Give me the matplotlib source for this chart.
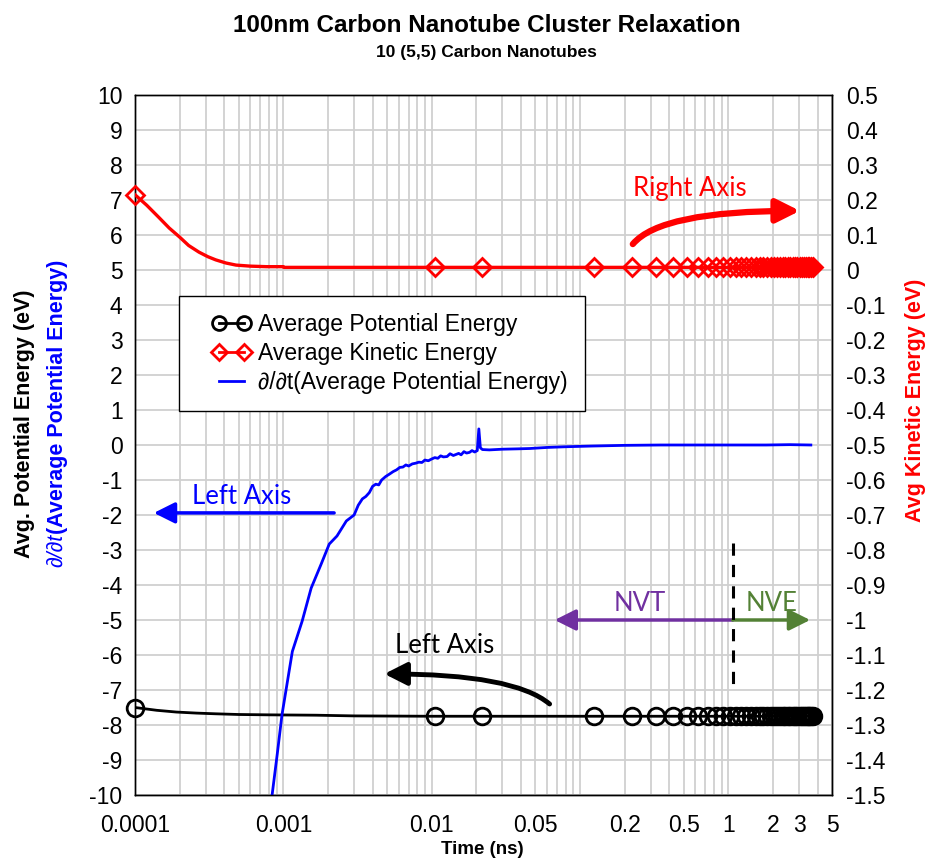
import numpy as np
import matplotlib
matplotlib.use("Agg")
import matplotlib.pyplot as plt
from matplotlib.ticker import LogLocator, FixedLocator, FuncFormatter, NullFormatter, MultipleLocator
from matplotlib.lines import Line2D
from matplotlib.legend_handler import HandlerLine2D

plt.rcParams['font.family'] = ['Liberation Sans', 'DejaVu Sans']
plt.rcParams['axes.unicode_minus'] = False

# average potential energy, left axis (eV)
pe_time = [1e-4, 1.4e-4, 1.9e-4, 2.6e-4, 3.5e-4, 5e-4, 8e-4, 1.66e-3, 3e-3, 1e-2, 0.1, 1.0, 3.73]
pe_vals = [-7.5, -7.58, -7.63, -7.66, -7.68, -7.70, -7.71, -7.72, -7.74, -7.75, -7.75, -7.75, -7.75]

# average kinetic energy, right axis (eV)
ke_time = [1e-4, 1.2e-4, 1.45e-4, 1.7e-4, 2e-4, 2.3e-4, 2.7e-4, 3.1e-4, 3.5e-4, 4.1e-4,
           4.8e-4, 6e-4, 7.7e-4, 1e-3, 1.01e-3, 3.73]
ke_vals = [0.215, 0.185, 0.15, 0.12, 0.094, 0.07, 0.051, 0.038, 0.029, 0.02,
           0.014, 0.011, 0.0095, 0.0095, 0.0075, 0.0075]

# saved frames (markers)
mark_time = [1e-4, 0.0105, 0.0217, 0.125, 0.225, 0.325, 0.425, 0.525, 0.625, 0.725, 0.825,
             0.925, 1.025, 1.125, 1.225, 1.325, 1.425, 1.525, 1.625, 1.725, 1.825, 1.925,
             2.025, 2.125, 2.225, 2.325, 2.425, 2.525, 2.625, 2.725, 2.825, 2.925, 3.025,
             3.125, 3.225, 3.325, 3.425, 3.525, 3.625, 3.725]
pe_mark = [-7.5] + [-7.75] * (len(mark_time) - 1)
ke_mark = [0.215] + [0.008] * (len(mark_time) - 1)

# d/dt of average potential energy, left axis
dpe_time = [8.4e-4, 9.1e-4, 9.8e-4, 1.15e-3, 1.34e-3, 1.54e-3, 1.8e-3, 2.04e-3, 2.3e-3, 2.66e-3,
            3.0e-3, 3.2e-3, 3.41e-3, 3.6e-3, 3.8e-3, 4.0e-3, 4.2e-3, 4.4e-3, 4.6e-3, 4.9e-3,
            5.2e-3, 5.5e-3, 5.8e-3, 6.1e-3, 6.4e-3, 6.7e-3, 7.0e-3, 7.4e-3, 7.8e-3, 8.2e-3,
            8.6e-3, 9.0e-3, 9.5e-3, 1.0e-2, 1.05e-2, 1.1e-2, 1.15e-2, 1.2e-2, 1.27e-2, 1.33e-2,
            1.4e-2, 1.46e-2, 1.52e-2, 1.58e-2, 1.65e-2, 1.72e-2, 1.8e-2, 1.87e-2, 1.95e-2, 2.03e-2,
            2.08e-2, 2.13e-2, 2.2e-2, 2.45e-2, 3.0e-2, 3.8e-2, 4.6e-2, 6e-2, 8e-2, 0.12,
            0.2, 0.35, 0.6, 1.0, 1.8, 2.6, 3.6]
dpe_vals = [-10, -8.83, -7.7, -5.9, -5.03, -4.09, -3.4, -2.83, -2.6, -2.17,
            -2.0, -1.72, -1.54, -1.47, -1.36, -1.18, -1.12, -1.14, -1.0, -0.9,
            -0.83, -0.76, -0.71, -0.64, -0.63, -0.57, -0.60, -0.54, -0.52, -0.49,
            -0.50, -0.43, -0.45, -0.40, -0.36, -0.38, -0.31, -0.34, -0.33, -0.25,
            -0.30, -0.27, -0.24, -0.28, -0.19, -0.23, -0.21, -0.16, -0.20, -0.16,
            0.46, -0.08, -0.13, -0.14, -0.12, -0.11, -0.1, -0.07, -0.05, -0.03,
            -0.01, 0.0, 0.0, 0.0, 0.0, 0.01, 0.0]

xtick_vals = [0.0001, 0.001, 0.01, 0.05, 0.2, 0.5, 1, 2, 3, 5]
xtick_labels = ['0.0001', '0.001', '0.01', '0.05', '0.2', '0.5', '1', '2', '3', '5']


class InsetHandler(HandlerLine2D):
    # pushes the legend sample to the right part of its box
    def create_artists(self, legend, orig_handle, xdescent, ydescent, width, height, fontsize, trans):
        s = 0.7 * fontsize
        return super().create_artists(legend, orig_handle, xdescent - s, ydescent, width - s,
                                      height, fontsize, trans)


fig = plt.figure(figsize=(9.31, 8.59), dpi=100)
ax = fig.add_axes([135 / 931, 1 - 795 / 859, 697 / 931, 700 / 859])
ax2 = ax.twinx()

grid_c = '#d0d0d0'
tick_fs = 16.5
ax.set_xscale('log')
ax.set_xlim(1e-4, 5)
ax.set_ylim(-10, 10)
ax.yaxis.set_major_locator(MultipleLocator(1))
ax.xaxis.set_major_locator(FixedLocator(xtick_vals))
ax.set_xticklabels(xtick_labels)
ax.xaxis.set_minor_locator(LogLocator(base=10, subs=np.arange(1, 10), numticks=20))
ax.xaxis.set_minor_formatter(NullFormatter())
ax.grid(True, which='both', axis='x', color=grid_c, lw=1.3)
ax.grid(True, which='major', axis='y', color=grid_c, lw=1.3)
ax.set_axisbelow(True)
ax.tick_params(which='both', length=0, labelsize=tick_fs)
ax.tick_params(axis='x', pad=14)
ax.tick_params(axis='y', pad=9)

ax2.set_ylim(-1.5, 0.5)
ax2.set_yticks(np.round(np.arange(-1.5, 0.51, 0.1), 1))
ax2.yaxis.set_major_formatter(FuncFormatter(lambda v, p: f"{round(v, 1):g}" if abs(v) > 1e-9 else '0'))
ax2.tick_params(length=0, labelsize=tick_fs, pad=10)

for a in (ax, ax2):
    for s in a.spines.values():
        s.set_color('black')
        s.set_linewidth(1.0)

# series
ax.plot(pe_time, pe_vals, color='black', lw=2.0, zorder=3)
ax.plot(mark_time, pe_mark, ls='none', marker='o', ms=12, mfc='none', mec='black', mew=2.0,
        zorder=3, clip_on=False)
ax.plot(dpe_time, dpe_vals, color='#0000ff', lw=2.0, zorder=3)
ax2.plot(ke_time, ke_vals, color='#ff0000', lw=2.4, zorder=3)
ax2.plot(mark_time, ke_mark, ls='none', marker='D', ms=9, mfc='none', mec='#ff0000', mew=2.0,
         zorder=3, clip_on=False)

# legend
handles = [
    Line2D([], [], color='black', lw=2, marker='o', ms=10, mfc='none', mew=2),
    Line2D([], [], color='#ff0000', lw=2, marker='D', ms=8, mfc='none', mew=2),
    Line2D([], [], color='#0000ff', lw=2),
]
labels = ['Average Potential Energy', 'Average Kinetic Energy', '\u2202/\u2202t(Average Potential Energy)']
leg = ax2.legend(handles, labels, loc='upper left', bbox_to_anchor=(0.063, 0.713), numpoints=2,
                 fontsize=16.5, frameon=True, fancybox=False, edgecolor='black', framealpha=1,
                 handlelength=2.4, handletextpad=0.3, borderpad=0.75, labelspacing=0.25,
                 borderaxespad=0, handler_map={Line2D: InsetHandler()})
leg.get_frame().set_linewidth(1.0)
leg.set_zorder(10)

# annotations
ann_font = ['Lato', 'DejaVu Sans']
ann_fs = 18.5
ax.text(0.55, 7.34, 'Right Axis', color='#ff0000', fontsize=ann_fs, ha='center', va='center',
        family=ann_font)
ax.annotate('', xy=(3.04, 6.69), xytext=(0.227, 5.74),
            arrowprops=dict(arrowstyle='-|>,head_length=0.7,head_width=0.35', color='#ff0000',
                            lw=4.5, mutation_scale=20, shrinkA=0, shrinkB=0,
                            connectionstyle='angle3,angleA=50,angleB=0'))

ax.text(5.27e-4, -1.46, 'Left Axis', color='#0000ff', fontsize=ann_fs, ha='center', va='center',
        family=ann_font)
ax.annotate('', xy=(1.34e-4, -1.94), xytext=(2.2e-3, -1.94),
            arrowprops=dict(arrowstyle='-|>,head_length=0.8,head_width=0.4', color='#0000ff',
                            lw=2.5, mutation_scale=16, shrinkA=0, shrinkB=0))

ax.text(0.0122, -5.74, 'Left Axis', color='black', fontsize=ann_fs, ha='center', va='center',
        family=ann_font)
ax.annotate('', xy=(4.8e-3, -6.54), xytext=(0.0624, -7.4),
            arrowprops=dict(arrowstyle='-|>,head_length=0.75,head_width=0.38', color='black',
                            lw=3.5, mutation_scale=18, shrinkA=0, shrinkB=0,
                            connectionstyle='angle3,angleA=140,angleB=0'))

ax.text(0.253, -4.54, 'NVT', color='#7030a0', fontsize=ann_fs, ha='center', va='center',
        family=ann_font)
ax.annotate('', xy=(0.0675, -5.0), xytext=(1.07, -5.0),
            arrowprops=dict(arrowstyle='-|>,head_length=0.8,head_width=0.4', color='#7030a0',
                            lw=2.5, mutation_scale=16, shrinkA=0, shrinkB=0))
ax.text(1.97, -4.54, 'NVE', color='#538135', fontsize=ann_fs, ha='center', va='center',
        family=ann_font)
ax.annotate('', xy=(3.56, -5.0), xytext=(1.07, -5.0),
            arrowprops=dict(arrowstyle='-|>,head_length=0.8,head_width=0.4', color='#538135',
                            lw=2.5, mutation_scale=16, shrinkA=0, shrinkB=0))
ax.plot([1.07, 1.07], [-2.8, -7.0], color='black', lw=2.2, ls=(0, (4, 3)), zorder=4)

# titles and axis labels
title_x = 0.5 * (233 + 740) / 931
fig.text(title_x, 1 - 25 / 859, '100nm Carbon Nanotube Cluster Relaxation',
         ha='center', va='center', fontsize=17.5, fontweight='bold')
fig.text(title_x, 1 - 52 / 859, '10 (5,5) Carbon Nanotubes',
         ha='center', va='center', fontsize=12.5, fontweight='bold')
fig.text(482 / 931, 1 - 850 / 859, 'Time (ns)', ha='center', va='center', fontsize=13.5,
         fontweight='bold')

lab_fs = 15.5
fig.text(25 / 931, 1 - 424 / 859, 'Avg. Potential Energy (eV)', rotation=90, ha='center',
         va='center', fontsize=lab_fs, fontweight='bold')
t1 = fig.text(57 / 931, 1 - 567 / 859, '\u2202/\u2202t', rotation=90, ha='center', va='bottom',
              fontsize=lab_fs, color='#0000ff', style='italic')
ax.annotate('(Average Potential Energy)', xy=(0.5, 1.0), xycoords=t1, rotation=90, ha='center',
            va='bottom', fontsize=lab_fs, fontweight='bold', color='#0000ff', annotation_clip=False)
fig.text(915 / 931, 1 - 400 / 859, 'Avg Kinetic Energy (eV)', rotation=90, ha='center',
         va='center', fontsize=lab_fs, fontweight='bold', color='#ff0000')

fig.savefig('out.png', dpi=100)
